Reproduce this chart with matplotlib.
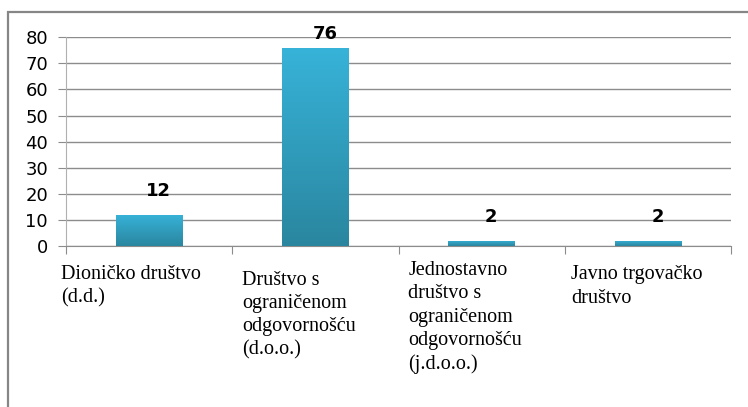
import matplotlib.pyplot as plt
import numpy as np
from matplotlib.colors import LinearSegmentedColormap
from matplotlib.patches import Rectangle

categories = ["Dioničko društvo\n(d.d.)",
              "Društvo s\nograničenom\nodgovornošću\n(d.o.o.)",
              "Jednostavno\ndruštvo s\nograničenom\nodgovornošću\n(j.d.o.o.)",
              "Javno trgovačko\ndruštvo"]
values = [12, 76, 2, 2]
y_ticks = [0, 10, 20, 30, 40, 50, 60, 70, 80]


def main():
    fig = plt.figure(figsize=(7.48, 4.07), dpi=100)
    W, H = 748, 407
    ax = fig.add_axes([66 / W, 1 - 246 / H, (731 - 66) / W, (246 - 37.3) / H])

    # outer chart frame (only left and top visible)
    fig.patches.append(Rectangle((8 / W, -0.1), 1.2, 1.1 - 12 / H, transform=fig.transFigure,
                                 fill=False, edgecolor='#868686', linewidth=1.6))

    x = np.arange(len(values))
    bars = ax.bar(x, values, width=0.4, color='none', zorder=3)

    # vertical gradient inside each bar
    cmap = LinearSegmentedColormap.from_list('bar', ['#2a869f', '#37b3d9'])
    grad = np.linspace(0, 1, 256).reshape(-1, 1)
    for b in bars:
        x0, w, h = b.get_x(), b.get_width(), b.get_height()
        im = ax.imshow(grad, cmap=cmap, origin='lower', aspect='auto',
                       extent=(x0, x0 + w, 0, h), zorder=3)
        im.set_clip_path(b)

    ax.set_xlim(-0.5, len(values) - 0.5)
    ax.set_ylim(0, 80)
    ax.set_yticks(y_ticks)
    ax.set_yticklabels([str(t) for t in y_ticks], fontsize=13, family='DejaVu Sans')
    ax.yaxis.grid(True, color='#8c8c8c', linewidth=1.0, zorder=0)
    ax.set_axisbelow(True)

    for side in ['top', 'right']:
        ax.spines[side].set_visible(False)
    ax.spines['left'].set_color('#b0b0b0')
    ax.spines['bottom'].set_color('#8c8c8c')
    ax.tick_params(axis='y', length=6, color='#8c8c8c', pad=7)
    ax.set_xticks(np.arange(len(values) + 1) - 0.5)
    ax.set_xticklabels([])
    ax.tick_params(axis='x', length=6, color='#8c8c8c')

    # value labels
    for xi, v in zip(x, values):
        ytxt = min(v + 5.7, 77.7)
        ax.annotate(str(v), xy=(xi, ytxt), xytext=(7, 0), textcoords='offset points',
                    ha='center', va='bottom', fontsize=13, fontweight='bold',
                    family='DejaVu Sans', zorder=5)

    # category labels (left aligned, serif)
    label_dx = [-0.53, -0.44, -0.44, -0.46]
    label_dy = [0, -4, 3, 0]
    for xi, lab, dx, dy in zip(x, categories, label_dx, label_dy):
        ax.annotate(lab, xy=(xi + dx, 0), xycoords=('data', 'axes fraction'),
                    xytext=(0, -14 + dy), textcoords='offset points',
                    ha='left', va='top', fontsize=14.5, family='Liberation Serif',
                    linespacing=1.3, annotation_clip=False)

    fig.savefig('out.png', dpi=100)


if __name__ == '__main__':
    main()
